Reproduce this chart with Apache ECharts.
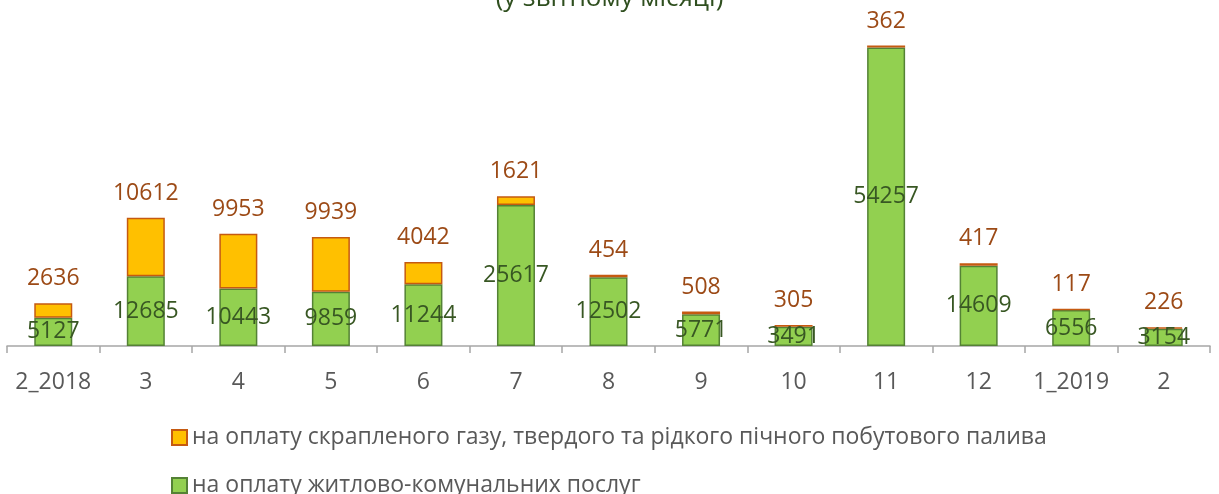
<!DOCTYPE html>
<html><head><meta charset="utf-8">
<script src="https://cdn.jsdelivr.net/npm/echarts@6/dist/echarts.min.js"></script>
<style>html,body{margin:0;padding:0;background:#fff}#c{width:1219px;height:494px}</style>
</head><body><div id="c"></div>
<script>
const categories = ['2_2018','3','4','5','6','7','8','9','10','11','12','1_2019','2'];
const housing = [5127,12685,10443,9859,11244,25617,12502,5771,3491,54257,14609,6556,3154];
const fuel = [2636,10612,9953,9939,4042,1621,454,508,305,362,417,117,226];
const titleText = '(у звітному місяці)';
const fuelName = 'на оплату скрапленого газу, твердого та рідкого пічного побутового палива';
const housingName = 'на оплату житлово-комунальних послуг';

const FONT = '"Open Sans", sans-serif';
const legendText = {fontFamily:FONT,fontSize:23,color:'#595959'};
const chart = echarts.init(document.getElementById('c'), null, {renderer:'canvas'});
chart.setOption({
  animation:false,
  title:{text:titleText,left:'center',top:-19,textStyle:{fontFamily:FONT,fontSize:26,fontWeight:'normal',color:'#2f4f1f'}},
  grid:{left:7,right:9,top:16,bottom:148,containLabel:false},
  legend:[
    {left:166,top:421,itemWidth:15,itemHeight:15,itemGap:6,textStyle:legendText,data:[{name:fuelName,icon:'rect'}]},
    {left:166,top:469,itemWidth:15,itemHeight:15,itemGap:6,textStyle:legendText,data:[{name:housingName,icon:'rect'}]}
  ],
  xAxis:{type:'category',data:categories,
    axisLine:{lineStyle:{color:'#a6a6a6',width:1.5}},
    axisTick:{show:true,interval:0,length:7,lineStyle:{color:'#a6a6a6',width:1.5}},
    axisLabel:{interval:0,fontFamily:FONT,fontSize:23,color:'#595959',margin:25}},
  yAxis:{type:'value',min:0,max:60000,show:false,splitLine:{show:false}},
  series:[
    {name:housingName,type:'bar',stack:'s',data:housing,barWidth:38,
      itemStyle:{color:'#92d050',borderColor:'#548235',borderWidth:1.5},
      label:{show:true,position:'inside',fontFamily:FONT,fontSize:23,color:'#385723'}},
    {name:fuelName,type:'bar',stack:'s',data:fuel,barWidth:38,
      itemStyle:{color:'#ffc000',borderColor:'#c55a11',borderWidth:1.5},
      label:{show:true,position:'top',distance:13,fontFamily:FONT,fontSize:23,color:'#9c4a16'}}
  ]
});
</script></body></html>
